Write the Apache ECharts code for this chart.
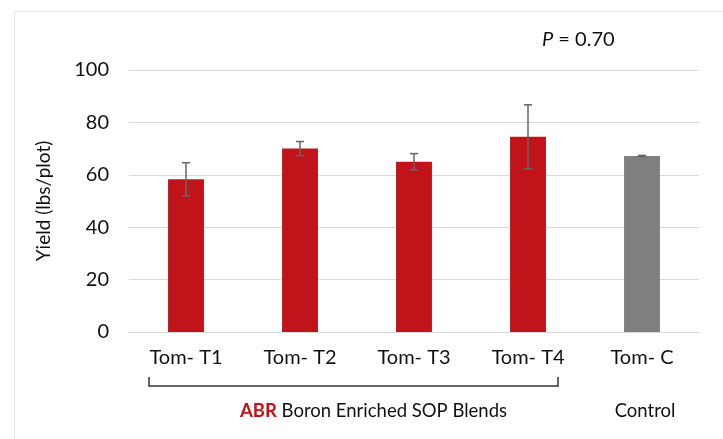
<!DOCTYPE html>
<html>
<head>
<meta charset="utf-8">
<script src="https://cdn.jsdelivr.net/npm/echarts@6/dist/echarts.min.js"></script>
<style>
  html, body { margin: 0; padding: 0; background: #fff; }
  #chart { width: 723px; height: 439px; }
</style>
</head>
<body>
<div id="chart"></div>
<script>
// categories and values
var categories = ['Tom- T1', 'Tom- T2', 'Tom- T3', 'Tom- T4', 'Tom- C'];
var yieldMean = [58.3, 70.0, 65.0, 74.5, 67.2];
var yieldErr = [6.3, 2.7, 3.1, 12.2, 0.2];
var yTicks = [0, 20, 40, 60, 80, 100];

var RED = '#c0141a';
var GRAY = '#7f7f7f';
var FONT = 'Lato';
var TXT = '#111';

var chart = echarts.init(document.getElementById('chart'), null, { renderer: 'canvas' });

var barData = yieldMean.map(function (v, i) {
  return { value: v, itemStyle: { color: i === 4 ? GRAY : RED } };
});
var errData = yieldMean.map(function (v, i) {
  return [i, v - yieldErr[i], v + yieldErr[i]];
});

chart.setOption({
  animation: false,
  backgroundColor: '#fff',
  grid: { left: 129, right: 24, top: 70, bottom: 107 },
  xAxis: {
    type: 'category',
    data: categories,
    axisTick: { show: false },
    axisLine: { lineStyle: { color: '#d9d9d9', width: 1 } },
    axisLabel: { color: TXT, fontFamily: FONT, fontSize: 20, margin: 16 }
  },
  yAxis: {
    type: 'value',
    min: yTicks[0],
    max: yTicks[yTicks.length - 1],
    interval: 20,
    name: 'Yield (lbs/plot)',
    nameLocation: 'middle',
    nameGap: 76,
    nameTextStyle: { color: TXT, fontFamily: FONT, fontSize: 19 },
    axisLine: { show: false },
    axisTick: { show: false },
    splitLine: { lineStyle: { color: '#d9d9d9', width: 1 } },
    axisLabel: { color: TXT, fontFamily: FONT, fontSize: 20, margin: 20 }
  },
  series: [
    {
      type: 'bar',
      data: barData,
      barWidth: '31.5%'
    },
    {
      type: 'custom',
      data: errData,
      z: 10,
      renderItem: function (params, api) {
        var x = api.value(0);
        var lo = api.coord([x, api.value(1)]);
        var hi = api.coord([x, api.value(2)]);
        var cap = 4;
        var style = { stroke: '#666', lineWidth: 1.5 };
        return {
          type: 'group',
          children: [
            { type: 'line', shape: { x1: hi[0], y1: hi[1], x2: lo[0], y2: lo[1] }, style: style },
            { type: 'line', shape: { x1: hi[0] - cap, y1: hi[1], x2: hi[0] + cap, y2: hi[1] }, style: style },
            { type: 'line', shape: { x1: lo[0] - cap, y1: lo[1], x2: lo[0] + cap, y2: lo[1] }, style: style }
          ]
        };
      }
    }
  ]
});

// annotations placed from the axis positions
var p0 = chart.convertToPixel({ seriesIndex: 0 }, [0, 0]);
var p3 = chart.convertToPixel({ seriesIndex: 0 }, [3, 0]);
var p4 = chart.convertToPixel({ seriesIndex: 0 }, [4, 0]);
var bx1 = p0[0] - 37, bx2 = p3[0] + 30;

chart.setOption({
  graphic: [
    {
      type: 'rect', left: 12, top: 9, silent: true,
      shape: { x: 0, y: 0, width: 760, height: 480 },
      style: { fill: 'none', stroke: '#e6e6e6', lineWidth: 1 }
    },
    {
      type: 'polyline', silent: true,
      shape: { points: [[bx1, 377], [bx1, 386], [bx2, 386], [bx2, 377]] },
      style: { fill: 'none', stroke: '#333', lineWidth: 1.5 }
    },
    {
      type: 'text', silent: true, x: (bx1 + bx2) / 2 + 20, y: 411,
      style: {
        text: '{r|ABR} Boron Enriched SOP Blends',
        align: 'center', verticalAlign: 'middle',
        fontFamily: FONT, fontSize: 18.5, fill: TXT,
        rich: { r: { fontFamily: FONT, fontSize: 18.5, fontWeight: 'bold', fill: RED } }
      }
    },
    {
      type: 'text', silent: true, x: p4[0] + 3, y: 411,
      style: {
        text: 'Control', align: 'center', verticalAlign: 'middle',
        fontFamily: FONT, fontSize: 18.5, fill: TXT
      }
    },
    {
      type: 'text', silent: true, x: 542, y: 40,
      style: {
        text: '{i|P} = 0.70', align: 'left', verticalAlign: 'middle',
        fontFamily: FONT, fontSize: 20, fill: TXT,
        rich: { i: { fontFamily: FONT, fontSize: 20, fontStyle: 'italic', fill: TXT } }
      }
    }
  ]
});
</script>
</body>
</html>
